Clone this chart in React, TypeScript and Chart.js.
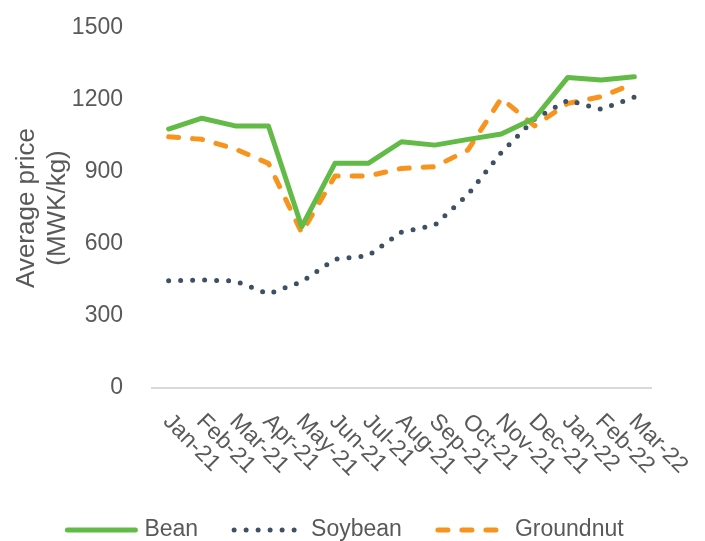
import React, { useEffect, useRef } from "react";
import { Chart, registerables } from "chart.js";

Chart.register(...registerables);

const months = [
  "Jan-21", "Feb-21", "Mar-21", "Apr-21", "May-21", "Jun-21", "Jul-21", "Aug-21",
  "Sep-21", "Oct-21", "Nov-21", "Dec-21", "Jan-22", "Feb-22", "Mar-22",
];
const bean = [1079, 1124, 1092, 1092, 672, 936, 936, 1026, 1012, 1036, 1058, 1124, 1294, 1283, 1297];
const soybean = [447, 450, 446, 392, 443, 537, 551, 650, 678, 807, 981, 1121, 1199, 1161, 1212];
const groundnut = [1047, 1036, 996, 936, 647, 883, 883, 915, 922, 992, 1207, 1092, 1186, 1214, 1269];
const yTicks = [0, 300, 600, 900, 1200, 1500];
const yTitle = ["Average price", "(MWK/kg)"];

const FONT = "'Liberation Sans', Arial, sans-serif";
const TEXT = "#595959";

const labelPlugin = {
  id: "customLabels",
  afterDraw(chart: any) {
    const ctx = chart.ctx as CanvasRenderingContext2D;
    const xs = chart.scales.x;
    ctx.save();
    ctx.font = `23px ${FONT}`;
    ctx.fillStyle = TEXT;
    ctx.textAlign = "left";
    ctx.textBaseline = "middle";
    months.forEach((m, i) => {
      const x = xs.getPixelForValue(i);
      ctx.save();
      ctx.translate(x - 2, xs.top + 30);
      ctx.rotate(Math.PI / 4);
      ctx.fillText(m, 0, 0);
      ctx.restore();
    });
    // legend
    const items = chart.data.datasets;
    const lineLen = 72;
    const gap1 = 7;
    const gap2 = 34;
    const widths = items.map((d: any) => ctx.measureText(d.label).width);
    const total = widths.reduce((a: number, w: number) => a + lineLen + gap1 + w, 0) + gap2 * (items.length - 1);
    let x = chart.width / 2 - 8 - total / 2;
    const y = 530;
    items.forEach((d: any, i: number) => {
      ctx.save();
      ctx.strokeStyle = d.borderColor;
      ctx.lineWidth = d.borderWidth;
      ctx.lineCap = "round";
      ctx.setLineDash(d.borderDash || []);
      ctx.beginPath();
      ctx.moveTo(x + 2, y);
      ctx.lineTo(x + lineLen - 2, y);
      ctx.stroke();
      ctx.restore();
      x += lineLen + gap1;
      ctx.fillText(d.label, x, y);
      x += widths[i] + gap2;
    });
    ctx.restore();
  },
};

export default function App() {
  const ref = useRef<HTMLCanvasElement>(null);
  useEffect(() => {
    if (!ref.current) return;
    const chart = new Chart(ref.current, {
      type: "line",
      data: {
        labels: months,
        datasets: [
          {
            label: "Bean",
            data: bean,
            borderColor: "#62BB46",
            backgroundColor: "#62BB46",
            borderWidth: 5,
            borderCapStyle: "round",
            borderJoinStyle: "round",
            pointRadius: 0,
            tension: 0,
          },
          {
            label: "Soybean",
            data: soybean,
            borderColor: "#3E5063",
            backgroundColor: "#3E5063",
            borderWidth: 5,
            borderDash: [0, 12],
            borderCapStyle: "round",
            borderJoinStyle: "round",
            pointRadius: 0,
            tension: 0,
          },
          {
            label: "Groundnut",
            data: groundnut,
            borderColor: "#F7941E",
            backgroundColor: "#F7941E",
            borderWidth: 5,
            borderDash: [10, 14],
            borderCapStyle: "round",
            borderJoinStyle: "round",
            pointRadius: 0,
            tension: 0,
          },
        ],
      },
      options: {
        responsive: false,
        animation: false,
        layout: { padding: { top: 28, right: 54, bottom: 0, left: 0 } },
        plugins: {
          legend: { display: false },
          tooltip: { enabled: false },
        },
        scales: {
          x: {
            offset: true,
            grid: { display: false },
            border: { display: true, color: "#D9D9D9", width: 2 },
            ticks: { display: false },
            afterFit: (s: any) => {
              s.height = 153;
            },
          },
          y: {
            min: 0,
            max: 1500,
            afterBuildTicks: (s: any) => {
              s.ticks = yTicks.map((v) => ({ value: v }));
            },
            afterFit: (s: any) => {
              s.width = 152;
              s.paddingTop = 0;
              s.paddingBottom = 0;
            },
            grid: { display: false },
            border: { display: false },
            ticks: {
              color: TEXT,
              font: { family: FONT, size: 23 },
              padding: 21,
              callback: (v: any) => String(v),
            },
            title: {
              display: true,
              text: yTitle,
              color: TEXT,
              font: { family: FONT, size: 26 },
              padding: { top: 11, bottom: 6 },
            },
          },
        },
      },
      plugins: [labelPlugin],
    });
    return () => chart.destroy();
  }, []);
  return (
    <div style={{ position: "fixed", left: 0, top: 0, width: 705, height: 541, background: "#fff" }}>
      <canvas ref={ref} width={705} height={541} style={{ width: 705, height: 541, display: "block" }} />
    </div>
  );
}
